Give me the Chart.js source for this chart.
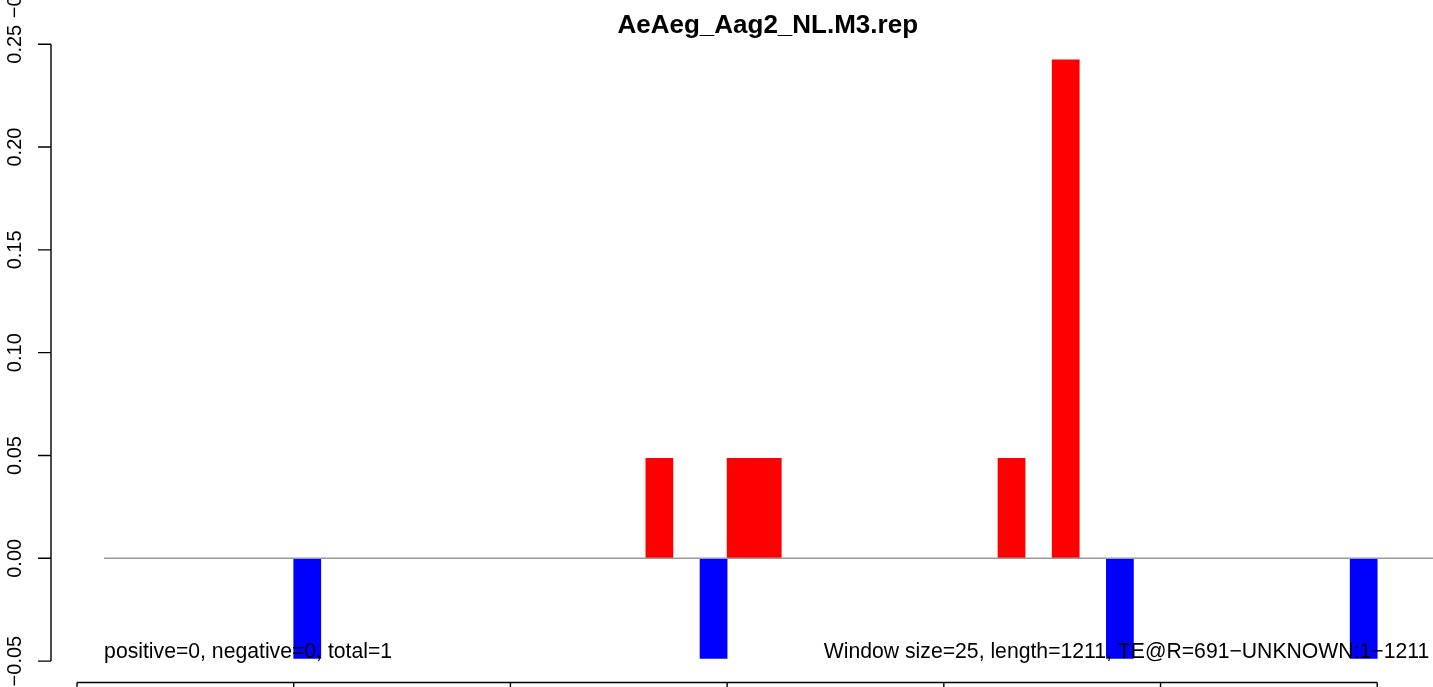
<!DOCTYPE html>
<html>
<head>
<meta charset="utf-8">
<script src="https://cdn.jsdelivr.net/npm/chart.js@4/dist/chart.umd.min.js"></script>
<style>
  html, body { margin: 0; padding: 0; background: #fff; overflow: hidden; width: 1433px; height: 687px; }
  #wrap { width: 1538px; height: 687px; }
</style>
</head>
<body>
<div id="wrap"><canvas id="c" width="1538" height="687"></canvas></div>
<script>
// ---- data ----
const chartTitle = 'AeAeg_Aag2_NL.M3.rep';
const windowSize = 25;
const windowStarts = [0, 25, 50, 75, 100, 125, 150, 175, 200, 225, 250, 275, 300, 325, 350, 375, 400, 425, 450, 475,
  500, 525, 550, 575, 600, 625, 650, 675, 700, 725, 750, 775, 800, 825, 850, 875, 900, 925, 950, 975,
  1000, 1025, 1050, 1075, 1100, 1125, 1150, 1175, 1200, 1225];
const windowValues = [0, 0, 0, 0, 0, 0, 0, 0, -0.0487, 0, 0, 0, 0, 0, 0, 0, 0, 0, 0, 0,
  0, 0.0486, 0, -0.0487, 0.0486, 0.0486, 0, 0, 0, 0, 0, 0, 0, 0, 0.0486, 0, 0.2424, 0, -0.0487, 0,
  0, 0, 0, 0, 0, 0, 0, -0.0487, 0, 0];
const baselineX = [25, 1300];
const baselineY = [0, 0];
const xTickValues = [0, 200, 400, 600, 800, 1000, 1200];
const yTickValues = [-0.05, 0, 0.05, 0.10, 0.15, 0.20, 0.25];
const yTickLabels = ['\u22120.05', '0.00', '0.05', '0.10', '0.15', '0.20', '0.25'];
const leftNote = 'positive=0, negative=0, total=1';
const rightNote = 'Window size=25, length=1211, TE@R=691\u2212UNKNOWN:1\u22121211';
const noteX = [25, 1248];
const noteY = -0.0487;
const strayLabel = '\u22120.05';

const FONT = '"Liberation Sans", Arial, Helvetica, sans-serif';

const rAxes = {
  id: 'rAxes',
  afterDraw(chart) {
    const { ctx, chartArea, scales } = chart;
    const x = scales.x, y = scales.y;
    const tickLen = 13;
    ctx.save();
    ctx.strokeStyle = '#000';
    ctx.fillStyle = '#000';
    ctx.lineWidth = 1.4;
    // y axis
    const ax = Math.round(chartArea.left);
    ctx.beginPath();
    ctx.moveTo(ax, y.getPixelForValue(yTickValues[0]));
    ctx.lineTo(ax, y.getPixelForValue(yTickValues[yTickValues.length - 1]));
    yTickValues.forEach(v => {
      const p = y.getPixelForValue(v);
      ctx.moveTo(ax, p);
      ctx.lineTo(ax - tickLen, p);
    });
    ctx.stroke();
    ctx.font = '20px ' + FONT;
    ctx.textAlign = 'center';
    ctx.textBaseline = 'alphabetic';
    yTickValues.forEach((v, i) => {
      const p = y.getPixelForValue(v);
      ctx.save();
      ctx.translate(ax - 30, p);
      ctx.rotate(-Math.PI / 2);
      ctx.fillText(yTickLabels[i], 0, 0);
      ctx.restore();
    });
    // stray label of the panel above (cropped)
    ctx.save();
    ctx.translate(ax - 30, y.getPixelForValue(yTickValues[yTickValues.length - 1]) - 26);
    ctx.rotate(-Math.PI / 2);
    ctx.textAlign = 'left';
    ctx.fillText(strayLabel, 0, 0);
    ctx.restore();
    // x axis
    const by = Math.round(chartArea.bottom) + 0.5;
    ctx.beginPath();
    ctx.moveTo(x.getPixelForValue(xTickValues[0]), by);
    ctx.lineTo(x.getPixelForValue(xTickValues[xTickValues.length - 1]), by);
    xTickValues.forEach(v => {
      const p = x.getPixelForValue(v);
      ctx.moveTo(p, by);
      ctx.lineTo(p, by + tickLen);
    });
    ctx.stroke();
    // notes
    ctx.font = '21.2px ' + FONT;
    ctx.textBaseline = 'alphabetic';
    ctx.textAlign = 'left';
    ctx.fillText(leftNote, x.getPixelForValue(noteX[0]), y.getPixelForValue(noteY));
    ctx.textAlign = 'right';
    ctx.fillText(rightNote, x.getPixelForValue(noteX[1]), y.getPixelForValue(noteY));
    ctx.restore();
  }
};

new Chart(document.getElementById('c'), {
  data: {
    datasets: [
      {
        type: 'line',
        data: baselineX.map((v, i) => ({ x: v, y: baselineY[i] })),
        borderColor: '#9a9a9a',
        borderWidth: 1.6,
        pointRadius: 0,
        tension: 0
      },
      {
        type: 'bar',
        data: windowStarts.map((s, i) => ({ x: s + windowSize / 2, y: windowValues[i] })),
        backgroundColor: ctx => {
          const v = ctx.raw ? ctx.raw.y : 0;
          if (v > 0) return '#ff0000';
          if (v < 0) return '#0000ff';
          return 'rgba(0,0,0,0)';
        },
        borderWidth: 0,
        categoryPercentage: 1,
        barPercentage: 1
      }
    ]
  },
  options: {
    responsive: false,
    animation: false,
    devicePixelRatio: 1,
    layout: { padding: { left: 51, right: 53.5, top: 0, bottom: 4.7 } },
    scales: {
      x: {
        type: 'linear', display: false, offset: false, min: -24, max: 1299,
        afterBuildTicks: s => { s.ticks = xTickValues.map(v => ({ value: v })); }
      },
      y: {
        type: 'linear', display: false, min: -0.0603, max: 0.2540,
        afterBuildTicks: s => { s.ticks = yTickValues.map(v => ({ value: v })); }
      }
    },
    plugins: {
      legend: { display: false },
      tooltip: { enabled: false },
      title: {
        display: true,
        text: chartTitle,
        color: '#000',
        font: { family: FONT, size: 26, weight: 'bold', lineHeight: 0.8 },
        padding: { top: 15, bottom: 0.2 }
      }
    }
  },
  plugins: [rAxes]
});
</script>
</body>
</html>
